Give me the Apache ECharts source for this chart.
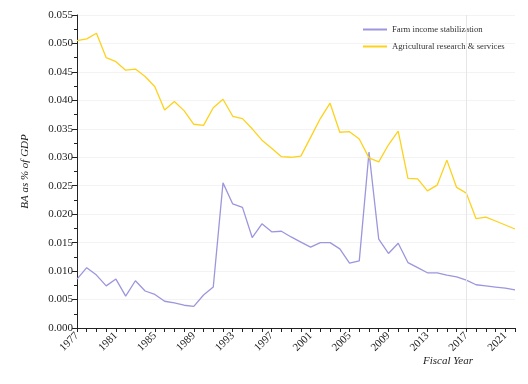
<!DOCTYPE html>
<html>
<head>
<meta charset="utf-8">
<script src="https://cdn.jsdelivr.net/npm/echarts@6/dist/echarts.min.js"></script>
<style>html,body{margin:0;padding:0;background:#fff}#c{width:528px;height:384px}</style>
</head>
<body>
<div id="c"></div>
<script>
var years = [];
for (var y = 1977; y <= 2022; y++) years.push(String(y));

var farmIncome = [0.0086,0.0106,0.0093,0.0074,0.0086,0.0056,0.0083,0.0065,0.0059,0.0047,
  0.0044,0.0040,0.0038,0.0058,0.0072,0.0255,0.0218,0.0212,0.0159,0.0183,
  0.0169,0.0170,0.0160,0.0151,0.0142,0.0150,0.0150,0.0139,0.0114,0.0118,
  0.0309,0.0156,0.0131,0.0149,0.0115,0.0106,0.0097,0.0097,0.0093,0.0090,
  0.0084,0.0076,0.0074,0.0072,0.0070,0.0067];

var agResearch = [0.0505,0.0508,0.0518,0.0475,0.0468,0.0453,0.0455,0.0442,0.0424,0.0383,
  0.0398,0.0382,0.0358,0.0356,0.0387,0.0402,0.0372,0.0368,0.0350,0.0330,
  0.0316,0.0301,0.0300,0.0302,0.0335,0.0368,0.0395,0.0344,0.0345,0.0332,
  0.0299,0.0292,0.0322,0.0346,0.0263,0.0262,0.0241,0.0251,0.0295,0.0247,
  0.0237,0.0192,0.0195,0.0188,0.0181,0.0174];

var seriesNames = ['Farm income stabilization', 'Agricultural research & services'];
var markYear = '2017';

var FONT = '"Liberation Serif", "DejaVu Serif", serif';
var chart = echarts.init(document.getElementById('c'), null, {renderer: 'canvas'});
chart.setOption({
  animation: false,
  backgroundColor: '#ffffff',
  grid: {left: 77, right: 13, top: 15, bottom: 56},
  legend: {
    orient: 'vertical', left: 358, top: 20, itemWidth: 24, itemHeight: 2, itemGap: 8,
    icon: 'rect',
    textStyle: {fontFamily: FONT, fontSize: 8.7, color: '#333'},
    data: seriesNames
  },
  xAxis: {
    type: 'category', data: years, boundaryGap: false,
    axisLine: {lineStyle: {color: '#222', width: 1}},
    axisTick: {show: true, interval: 0, length: 4, lineStyle: {color: '#222'}},
    axisLabel: {interval: 3, rotate: 45, fontFamily: FONT, fontSize: 11, color: '#222', margin: 6},
    splitLine: {show: false}
  },
  yAxis: {
    type: 'value', min: 0, max: 0.055, interval: 0.005,
    name: 'BA as % of GDP', nameLocation: 'middle', nameGap: 46,
    nameTextStyle: {fontFamily: FONT, fontSize: 11, fontStyle: 'italic', color: '#222'},
    axisLine: {show: true, lineStyle: {color: '#222', width: 1}},
    axisTick: {show: true, length: 5, lineStyle: {color: '#222'}},
    minorTick: {show: true, splitNumber: 2, length: 3, lineStyle: {color: '#222'}},
    axisLabel: {fontFamily: FONT, fontSize: 11, color: '#222', margin: 4,
      formatter: function (v) { return v.toFixed(3); }},
    splitLine: {show: true, lineStyle: {color: '#f3f3f3', width: 1}}
  },
  graphic: [{
    type: 'text', left: 423, top: 356,
    style: {text: 'Fiscal Year', fontFamily: FONT, fontSize: 11, fontStyle: 'italic', fill: '#222'}
  }],
  series: [{
    name: seriesNames[0], type: 'line', data: farmIncome, symbol: 'none',
    lineStyle: {color: '#9c96dc', width: 1.3}, itemStyle: {color: '#9c96dc'},
    markLine: {
      silent: true, symbol: 'none', label: {show: false},
      lineStyle: {color: '#e6e6e6', width: 1, type: 'solid'},
      data: [{xAxis: markYear}]
    }
  }, {
    name: seriesNames[1], type: 'line', data: agResearch, symbol: 'none',
    lineStyle: {color: '#fdd21c', width: 1.3}, itemStyle: {color: '#fdd21c'}
  }]
});
</script>
</body>
</html>
